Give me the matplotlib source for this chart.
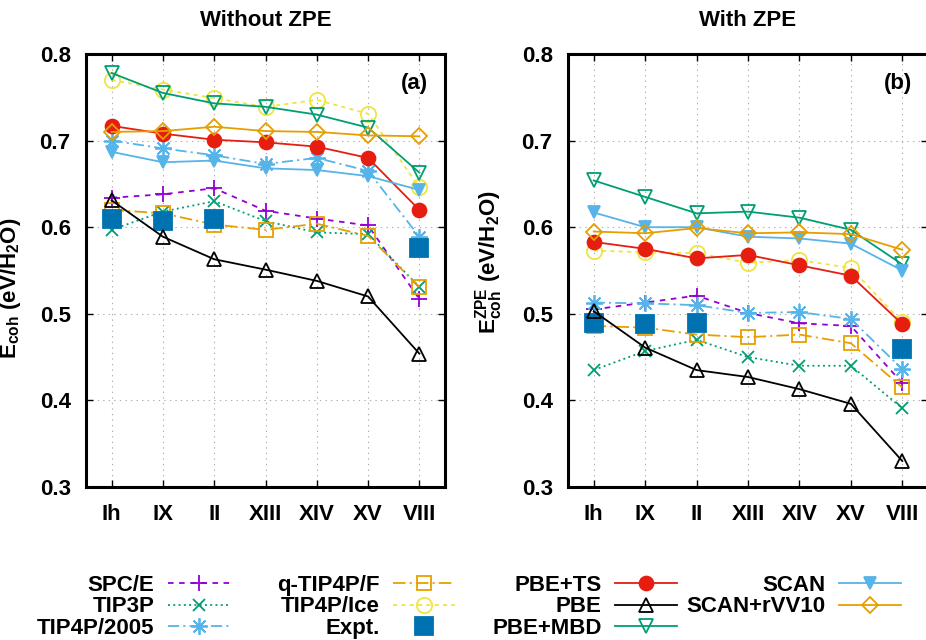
import numpy as np
import matplotlib
matplotlib.use("Agg")
import matplotlib.pyplot as plt

plt.rcParams["font.family"] = ["Liberation Sans", "DejaVu Sans"]
plt.rcParams["font.weight"] = "bold"
plt.rcParams["mathtext.fontset"] = "custom"
plt.rcParams["mathtext.rm"] = "Liberation Sans:bold"
plt.rcParams["mathtext.it"] = "Liberation Sans:bold"
plt.rcParams["mathtext.bf"] = "Liberation Sans:bold"
plt.rcParams["mathtext.default"] = "bf"
plt.rcParams["lines.scale_dashes"] = False

# Ice phases on the x axis
phases = ["Ih", "IX", "II", "XIII", "XIV", "XV", "VIII"]
nan = np.nan

# Cohesive energies (eV/H2O) without zero-point energy
spce_nozpe = [0.634, 0.638, 0.645, 0.619, 0.610, 0.602, 0.517]
tip3p_nozpe = [0.597, 0.618, 0.630, 0.607, 0.594, 0.592, 0.531]
tip4p2005_nozpe = [0.700, 0.691, 0.683, 0.673, 0.680, 0.665, 0.589]
qtip4pf_nozpe = [0.620, 0.616, 0.603, 0.597, 0.604, 0.590, 0.531]
tip4pice_nozpe = [0.770, 0.759, 0.749, 0.739, 0.747, 0.731, 0.646]
expt_nozpe = [0.609, 0.607, 0.609, nan, nan, nan, 0.576]
pbets_nozpe = [0.717, 0.708, 0.701, 0.698, 0.693, 0.680, 0.620]
pbe_nozpe = [0.631, 0.589, 0.563, 0.551, 0.538, 0.520, 0.454]
pbembd_nozpe = [0.778, 0.755, 0.743, 0.739, 0.730, 0.715, 0.663]
scan_nozpe = [0.687, 0.675, 0.677, 0.668, 0.666, 0.659, 0.643]
scanrvv10_nozpe = [0.710, 0.711, 0.716, 0.711, 0.710, 0.706, 0.705]

# Cohesive energies (eV/H2O) including zero-point energy
spce_zpe = [0.505, 0.513, 0.521, 0.501, 0.489, 0.486, 0.420]
tip3p_zpe = [0.435, 0.457, 0.470, 0.450, 0.440, 0.440, 0.391]
tip4p2005_zpe = [0.513, 0.512, 0.510, 0.501, 0.502, 0.494, 0.436]
qtip4pf_zpe = [0.486, 0.484, 0.476, 0.473, 0.476, 0.466, 0.415]
tip4pice_zpe = [0.573, 0.571, 0.570, 0.559, 0.562, 0.553, 0.490]
expt_zpe = [0.489, 0.488, 0.489, nan, nan, nan, 0.459]
pbets_zpe = [0.583, 0.575, 0.564, 0.568, 0.556, 0.544, 0.488]
pbe_zpe = [0.503, 0.461, 0.435, 0.427, 0.413, 0.396, 0.330]
pbembd_zpe = [0.654, 0.635, 0.616, 0.618, 0.611, 0.597, 0.557]
scan_zpe = [0.617, 0.600, 0.600, 0.589, 0.587, 0.581, 0.550]
scanrvv10_zpe = [0.595, 0.593, 0.599, 0.593, 0.594, 0.592, 0.574]

models = ["SPC/E", "TIP3P", "TIP4P/2005", "q-TIP4P/F", "TIP4P/Ice", "Expt.",
          "PBE+TS", "PBE", "PBE+MBD", "SCAN", "SCAN+rVV10"]
values_nozpe = [spce_nozpe, tip3p_nozpe, tip4p2005_nozpe, qtip4pf_nozpe,
                tip4pice_nozpe, expt_nozpe, pbets_nozpe, pbe_nozpe,
                pbembd_nozpe, scan_nozpe, scanrvv10_nozpe]
values_zpe = [spce_zpe, tip3p_zpe, tip4p2005_zpe, qtip4pf_zpe, tip4pice_zpe,
              expt_zpe, pbets_zpe, pbe_zpe, pbembd_zpe, scan_zpe, scanrvv10_zpe]

purple = "#9400d3"
green = "#009e73"
skyblue = "#56b4e9"
orange = "#e69f00"
yellow = "#f0e442"
blue = "#0072b2"
red = "#e51e10"
black = "#000000"

asterisk = (8, 2, 0)
styles = {
    "SPC/E": dict(color=purple, ls=(0, (4, 4)), marker="+", ms=11, mfc="none"),
    "TIP3P": dict(color=green, ls=(0, (1.4, 2.4)), marker="x", ms=9, mfc="none"),
    "TIP4P/2005": dict(color=skyblue, ls=(0, (8, 3, 1.5, 3)), marker=asterisk, ms=12, mfc="none"),
    "q-TIP4P/F": dict(color=orange, ls=(0, (9, 3, 1.5, 3)), marker="s", ms=10, mfc="none"),
    "TIP4P/Ice": dict(color=yellow, ls=(0, (3, 3)), marker="o", ms=11, mfc="none"),
    "Expt.": dict(color=blue, ls="none", marker="s", ms=13),
    "PBE+TS": dict(color=red, ls="-", marker="o", ms=10),
    "PBE": dict(color=black, ls="-", marker="^", ms=10, mfc="none"),
    "PBE+MBD": dict(color=green, ls="-", marker="v", ms=10, mfc="none"),
    "SCAN": dict(color=skyblue, ls="-", marker="v", ms=9),
    "SCAN+rVV10": dict(color=orange, ls="-", marker="D", ms=8, mfc="none"),
}

W, H = 926, 640
fig = plt.figure(figsize=(W / 100, H / 100), dpi=100)
ax_a = fig.add_axes([86 / W, 1 - 487 / H, 359 / W, 433 / H])
ax_b = fig.add_axes([568 / W, 1 - 487 / H, 360 / W, 433 / H])

x = np.arange(len(phases))
handles = {}
for ax, data in ((ax_a, values_nozpe), (ax_b, values_zpe)):
    for name, vals in zip(models, data):
        st = styles[name]
        (ln,) = ax.plot(x, vals, color=st["color"], linestyle=st["ls"],
                        linewidth=1.3, marker=st["marker"], markersize=st["ms"],
                        markerfacecolor=st.get("mfc", st["color"]),
                        markeredgecolor=st["color"], markeredgewidth=1.3,
                        label=name, clip_on=False)
        handles[name] = ln

    ax.set_xlim(-0.5, 6.5)
    ax.set_ylim(0.3, 0.8)
    ax.set_xticks(x)
    ax.set_xticklabels(phases)
    ax.set_yticks(np.arange(0.3, 0.81, 0.1))
    ax.set_yticklabels([f"{v:.1f}" for v in np.arange(0.3, 0.81, 0.1)])
    ax.tick_params(direction="in", top=True, right=True, length=5, width=1,
                   labelsize=16)
    ax.tick_params(axis="x", pad=12)
    ax.tick_params(axis="y", pad=11)
    ax.grid(True, color="#b0b0b0", linestyle=(0, (1, 3)), linewidth=0.8)
    ax.set_axisbelow(True)
    for sp in ax.spines.values():
        sp.set_linewidth(2.2)

ax_a.set_title("Without ZPE", fontsize=16, fontweight="bold", pad=20)
ax_b.set_title("With ZPE", fontsize=16, fontweight="bold", pad=20)
ax_a.text(0.953, 0.933, "(a)", transform=ax_a.transAxes, ha="right",
          va="center", fontsize=16, fontweight="bold")
ax_b.text(0.955, 0.933, "(b)", transform=ax_b.transAxes, ha="right",
          va="center", fontsize=16, fontweight="bold")

ax_a.set_ylabel(r"$E_{coh}$ (eV/H$_2$O)", fontsize=16, fontweight="bold")
ax_b.set_ylabel(r"$E^{ZPE}_{coh}$ (eV/H$_2$O)", fontsize=16, fontweight="bold")
ax_a.yaxis.set_label_coords(-0.175, 0.46)
ax_b.yaxis.set_label_coords(-0.175, 0.52)

# Legend split into four right-aligned columns below the panels
columns = [
    (["SPC/E", "TIP3P", "TIP4P/2005"], 230),
    (["q-TIP4P/F", "TIP4P/Ice", "Expt."], 455),
    (["PBE+TS", "PBE", "PBE+MBD"], 677),
    (["SCAN", "SCAN+rVV10"], 901),
]
for names, xr in columns:
    leg = fig.legend([handles[n] for n in names], names, loc="upper right",
                     bbox_to_anchor=(xr / W, 1 - 575 / H),
                     bbox_transform=fig.transFigure, frameon=False,
                     markerfirst=False, fontsize=16, handlelength=2.8,
                     handletextpad=0.6, labelspacing=0.02, borderpad=0,
                     borderaxespad=0, numpoints=1)
    for t in leg.get_texts():
        t.set_fontweight("bold")

fig.savefig("out.png", dpi=100)
